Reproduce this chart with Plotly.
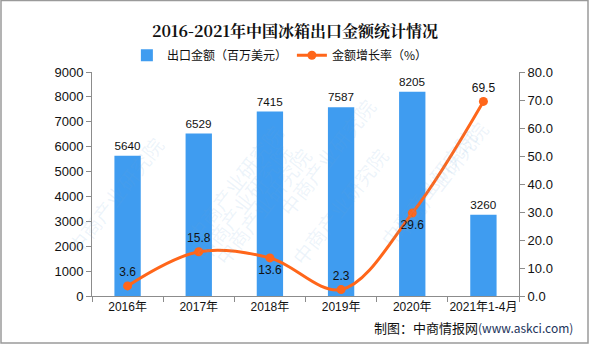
import plotly.graph_objects as go

# 冰箱出口金额（百万美元）与金额增长率（%）
years = ["2016年", "2017年", "2018年", "2019年", "2020年", "2021年1-4月"]
export_value = [5640, 6529, 7415, 7587, 8205, 3260]
growth_rate = [3.6, 15.8, 13.6, 2.3, 29.6, 69.5]
rate_label_pos = ["top center", "top center", "bottom center",
                  "top center", "bottom center", "top center"]

left_ticks = list(range(0, 9001, 1000))
right_ticks = [v * 10.0 for v in range(0, 9)]

BAR_COLOR = "#3f9cf0"
LINE_COLOR = "#ff661a"
AXIS_COLOR = "#8c8c8c"
FONT = "Liberation Sans, Noto Sans CJK SC, sans-serif"
CJK = "Noto Sans CJK SC, sans-serif"

fig = go.Figure()

fig.add_trace(go.Bar(
    x=years, y=export_value, name="出口金额（百万美元）",
    marker=dict(color=BAR_COLOR, line=dict(width=0)),
    text=[str(v) for v in export_value], textposition="outside",
    textfont=dict(size=12, color="#111", family=FONT),
    cliponaxis=False, yaxis="y",
))

fig.add_trace(go.Scatter(
    x=years, y=growth_rate, name="金额增长率（%）",
    mode="lines+markers+text",
    line=dict(color=LINE_COLOR, width=3, shape="spline", smoothing=1.0),
    marker=dict(color=LINE_COLOR, size=9),
    text=[f"{v:.1f}" for v in growth_rate], textposition=rate_label_pos,
    textfont=dict(size=12, color="#111", family=FONT),
    cliponaxis=False, yaxis="y2",
))

# faint diagonal watermark
wm_spots = [(0.20, 0.80), (0.55, 0.62), (0.92, 0.78), (0.22, 0.12),
            (0.58, 0.10), (0.95, 0.22), (-0.08, 0.45), (0.40, 0.40)]
annotations = []
for wx, wy in wm_spots:
    annotations.append(dict(
        text="中商产业研究院", x=wx, y=wy, xref="paper", yref="paper",
        showarrow=False, textangle=-52,
        font=dict(size=20, color="rgba(110,165,215,0.12)", family=CJK),
    ))

annotations.append(dict(
    text="制图：中商情报网<span style='font-size:12px;color:#22335a'>(www.askci.com)</span>",
    x=1.13, y=-0.14, xref="paper", yref="paper", xanchor="right", yanchor="middle",
    showarrow=False, font=dict(size=13, color="#111", family=CJK),
))

fig.update_layout(
    width=590, height=344,
    margin=dict(l=92, r=71, t=72, b=48, autoexpand=False),
    paper_bgcolor="white", plot_bgcolor="white",
    title=dict(text="<b>2016-2021年中国冰箱出口金额统计情况</b>",
               x=0.5, xanchor="center", y=0.91, yanchor="middle",
               font=dict(size=16, color="#111", family="Noto Serif CJK SC, " + CJK)),
    legend=dict(orientation="h", x=0.44, xanchor="center", y=1.075, yanchor="middle",
                font=dict(size=12, color="#111", family=CJK),
                itemwidth=30, tracegroupgap=20, bgcolor="rgba(0,0,0,0)"),
    bargap=0.63,
    showlegend=True,
    xaxis=dict(
        type="category", showline=True, linecolor=AXIS_COLOR, linewidth=1,
        ticks="outside", tickson="boundaries", ticklen=5, tickcolor=AXIS_COLOR,
        tickangle=0, automargin=False,
        tickfont=dict(size=12, color="#111", family=FONT),
        showgrid=False, zeroline=False,
    ),
    yaxis=dict(
        range=[0, 9000], tickvals=left_ticks, showline=True, linecolor=AXIS_COLOR,
        ticks="outside", ticklen=5, tickcolor=AXIS_COLOR, automargin=False,
        tickfont=dict(size=13, color="#111", family=FONT),
        showgrid=False, zeroline=False,
    ),
    yaxis2=dict(
        range=[0, 80], tickvals=right_ticks, tickformat=".1f", overlaying="y", side="right",
        showline=True, linecolor=AXIS_COLOR, ticks="outside", ticklen=5, tickcolor=AXIS_COLOR,
        automargin=False,
        tickfont=dict(size=13, color="#111", family=FONT),
        showgrid=False, zeroline=False,
    ),
    annotations=annotations,
    shapes=[dict(type="rect", xref="paper", yref="paper",
                 x0=-91 / 427, x1=(427 + 69) / 427, y0=-47 / 224, y1=(224 + 71.5) / 224,
                 line=dict(color="#9a9a9a", width=1.5), fillcolor="rgba(0,0,0,0)")],
)

fig.write_html("out.html")
